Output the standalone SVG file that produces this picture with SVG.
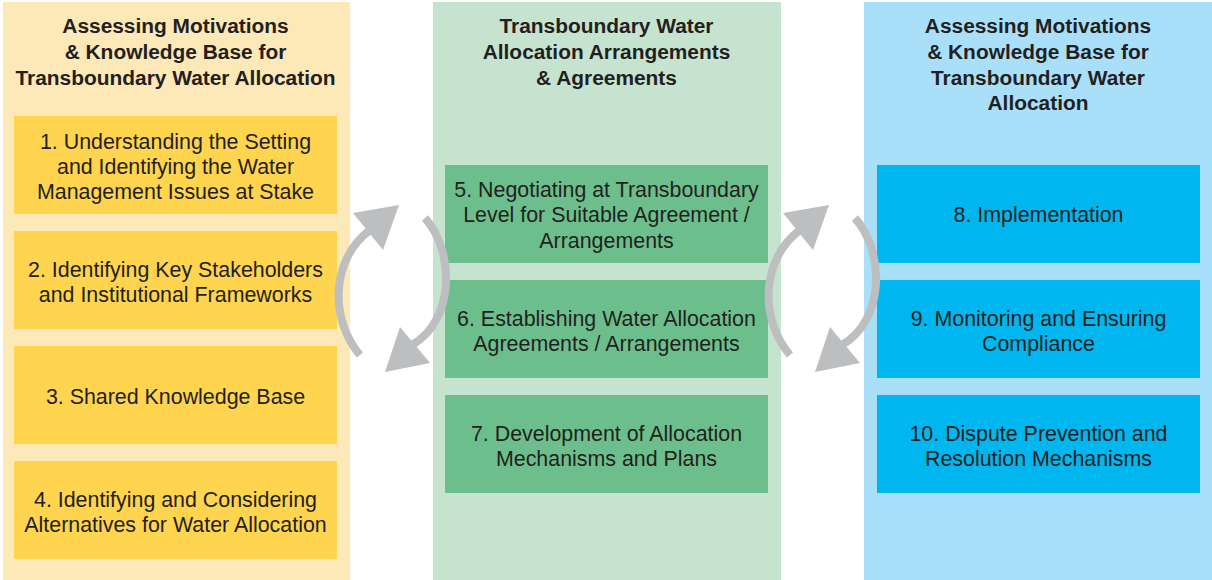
<svg xmlns="http://www.w3.org/2000/svg" width="1212" height="580" viewBox="0 0 1212 580">
<style>
.h{font-family:"Liberation Sans",Arial,sans-serif;font-weight:bold;font-size:20.9px;fill:#231f20;text-anchor:middle}
.t{font-family:"Liberation Sans",Arial,sans-serif;font-size:21.4px;fill:#231f20;text-anchor:middle}
.py{fill:#fde8b8}.by{fill:#ffd44f}
.pg{fill:#c6e3d0}.bg{fill:#6cbf8c}
.pb{fill:#aadffa}.bb{fill:#00b6ef}
.arc{fill:none;stroke:#bcbec0;stroke-width:8}
.head{fill:#bcbec0}
</style>
<rect class="py" x="3" y="2" width="347" height="578"/>
<rect class="pg" x="433" y="2" width="348" height="578"/>
<rect class="pb" x="864" y="2" width="348" height="578"/>
<g id="header-left">
<text class="h" x="175.5" y="33">Assessing Motivations</text>
<text class="h" x="175.5" y="59">&amp; Knowledge Base for</text>
<text class="h" x="175.5" y="85">Transboundary Water Allocation</text>
</g>
<g id="header-middle">
<text class="h" x="606.5" y="33">Transboundary Water</text>
<text class="h" x="606.5" y="59">Allocation Arrangements</text>
<text class="h" x="606.5" y="85">&amp; Agreements</text>
</g>
<g id="header-right">
<text class="h" x="1038" y="33">Assessing Motivations</text>
<text class="h" x="1038" y="59">&amp; Knowledge Base for</text>
<text class="h" x="1038" y="85">Transboundary Water</text>
<text class="h" x="1038" y="110">Allocation</text>
</g>
<g id="n1"><rect class="by" x="14" y="116" width="323" height="98"/>
<text class="t" x="175.5" y="149">1. Understanding the Setting</text>
<text class="t" x="175.5" y="174">and Identifying the Water</text>
<text class="t" x="175.5" y="199">Management Issues at Stake</text></g>
<g id="n2"><rect class="by" x="14" y="231" width="323" height="98"/>
<text class="t" x="175.5" y="277">2. Identifying Key Stakeholders</text>
<text class="t" x="175.5" y="302">and Institutional Frameworks</text></g>
<g id="n3"><rect class="by" x="14" y="346" width="323" height="98"/>
<text class="t" x="175.5" y="404">3. Shared Knowledge Base</text></g>
<g id="n4"><rect class="by" x="14" y="461" width="323" height="98"/>
<text class="t" x="175.5" y="507">4. Identifying and Considering</text>
<text class="t" x="175.5" y="532">Alternatives for Water Allocation</text></g>
<g id="n5"><rect class="bg" x="445" y="165" width="323" height="98"/>
<text class="t" x="606.5" y="197">5. Negotiating at Transboundary</text>
<text class="t" x="606.5" y="222">Level for Suitable Agreement /</text>
<text class="t" x="606.5" y="248">Arrangements</text></g>
<g id="n6"><rect class="bg" x="445" y="280" width="323" height="98"/>
<text class="t" x="606.5" y="326">6. Establishing Water Allocation</text>
<text class="t" x="606.5" y="351">Agreements / Arrangements</text></g>
<g id="n7"><rect class="bg" x="445" y="395" width="323" height="98"/>
<text class="t" x="606.5" y="441">7. Development of Allocation</text>
<text class="t" x="606.5" y="466">Mechanisms and Plans</text></g>
<g id="n8"><rect class="bb" x="877" y="165" width="323" height="98"/>
<text class="t" x="1038.5" y="222">8. Implementation</text></g>
<g id="n9"><rect class="bb" x="877" y="280" width="323" height="98"/>
<text class="t" x="1038.5" y="326">9. Monitoring and Ensuring</text>
<text class="t" x="1038.5" y="351">Compliance</text></g>
<g id="n10"><rect class="bb" x="877" y="395" width="323" height="98"/>
<text class="t" x="1038.5" y="441">10. Dispute Prevention and</text>
<text class="t" x="1038.5" y="466">Resolution Mechanisms</text></g>
<g id="connectors">
<g id="cycle1">
<path class="arc" d="M360,355 C330,320 330,260 370,230"/>
<polygon class="head" points="353,213 399,205 383,250"/>
<path class="arc" d="M425,218 C455,252 455,320 412,345"/>
<polygon class="head" points="400,327 430,363 385,372"/>
</g>
<g id="cycle2" transform="translate(430,0)">
<path class="arc" d="M360,355 C330,320 330,260 370,230"/>
<polygon class="head" points="353,213 399,205 383,250"/>
<path class="arc" d="M425,218 C455,252 455,320 412,345"/>
<polygon class="head" points="400,327 430,363 385,372"/>
</g>
</g>
</svg>
